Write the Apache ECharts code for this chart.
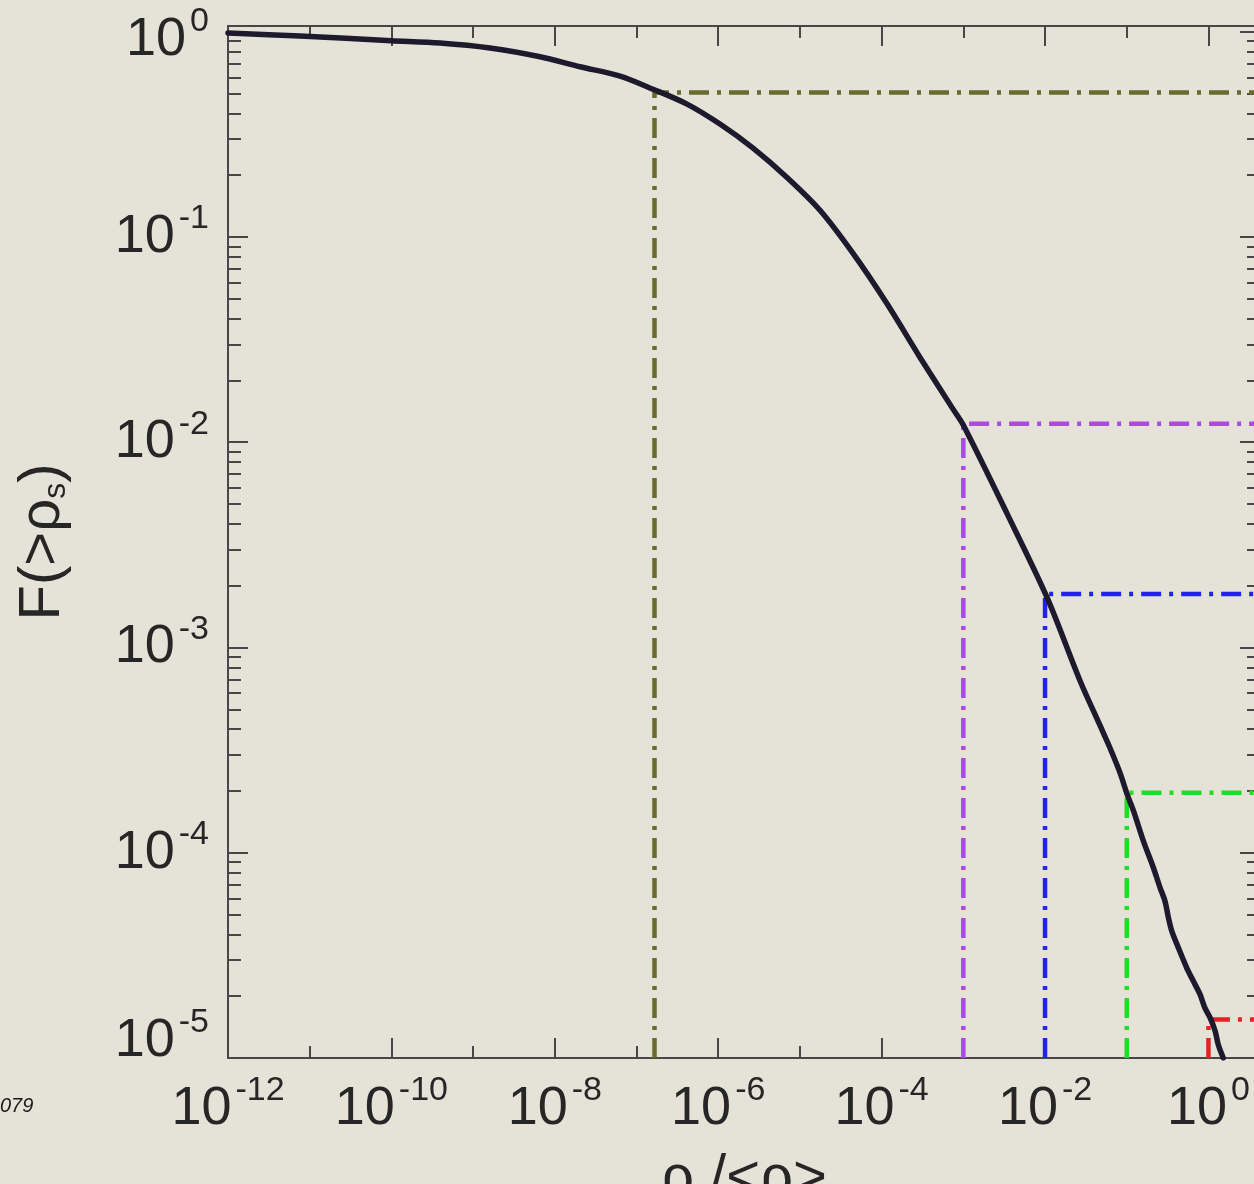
<!DOCTYPE html>
<html>
<head>
<meta charset="utf-8">
<script src="https://cdn.jsdelivr.net/npm/echarts@6/dist/echarts.min.js"></script>
<style>
  html, body { margin: 0; padding: 0; background: #e5e3d7; }
  #chart { width: 1254px; height: 1184px; }
</style>
</head>
<body>
<div id="chart"></div>
<script>
// Cumulative fraction F(>rho_s) against the density ratio rho_s/<rho>
const rhoRatio = [1.00e-12, 7.60e-12, 1.0e-10, 3.94e-10, 1.61e-9, 6.59e-9, 2.03e-8, 6.28e-8,
  1.59e-7, 4.15e-7, 1.05e-6, 2.67e-6, 6.95e-6, 1.76e-5, 4.47e-5, 1.16e-4, 2.95e-4, 7.48e-4,
  9.91e-4, 3.43e-3, 1.06e-2, 2.68e-2, 4.71e-2, 6.24e-2, 8.28e-2, 0.101, 0.121, 0.160, 0.212,
  0.256, 0.294, 0.324, 0.356, 0.429, 0.542, 0.653, 0.789, 0.908, 1.05, 1.21, 1.32, 1.52];
const fraction = [0.986, 0.953, 0.904, 0.881, 0.833, 0.755, 0.675, 0.608,
  0.525, 0.444, 0.355, 0.271, 0.195, 0.135, 0.0832, 0.0474, 0.0259, 0.0145,
  0.0122, 4.49e-3, 1.75e-3, 6.89e-4, 4.17e-4, 3.24e-4, 2.45e-4, 1.93e-4, 1.60e-4, 1.14e-4, 8.45e-5,
  6.75e-5, 5.81e-5, 4.82e-5, 4.15e-5, 3.44e-5, 2.75e-5, 2.37e-5, 2.04e-5, 1.75e-5, 1.57e-5, 1.35e-5, 1.16e-5, 1.0e-5];

// Threshold levels: density ratio and the fraction of points above it
const thresholdRho = [1.66e-7, 1e-3, 1e-2, 1e-1, 1.0];
const thresholdF = [0.506, 0.0123, 0.00182, 1.96e-4, 1.54e-5];
const thresholdColors = ['#6a6a2e', '#aa4ae2', '#2323e2', '#25dc25', '#e42424'];

// Axis extents and tick positions, as powers of ten
const xRangeExp = [-12, 0.631];
const yRangeExp = [-5, 0.028];
const xLabelExp = [-12, -10, -8, -6, -4, -2, 0];
const xMinorExp = [-11, -9, -7, -5, -3, -1];
const yLabelExp = [-5, -4, -3, -2, -1, 0];
const yMinorMantissa = [2, 3, 4, 5, 6, 7, 8, 9];

const FONT = '"Liberation Sans", Arial, Helvetica, sans-serif';
const AXIS_COLOR = '#474747';
const TEXT_COLOR = '#262626';

const yMinorExp = [];
for (let e = yRangeExp[0]; e < 0; e++) {
  yMinorMantissa.forEach(m => yMinorExp.push(e + Math.log10(m)));
}

// "10" with a raised exponent; the top and bottom y labels sit slightly inside the frame
const baseText = { fontSize: 54, fontFamily: FONT, color: TEXT_COLOR };
const supText = { fontSize: 34, fontFamily: FONT, color: TEXT_COLOR, padding: [0, 0, 0, 4], verticalAlign: 'top' };
const powerRich = {
  b:  Object.assign({}, baseText, { lineHeight: 68 }),
  s:  Object.assign({}, supText, { height: 32 }),
  bt: Object.assign({}, baseText, { lineHeight: 84, height: 68, verticalAlign: 'bottom' }),
  st: Object.assign({}, supText, { height: 64 }),
  bb: Object.assign({}, baseText, { lineHeight: 102, height: 68, verticalAlign: 'top' }),
  sb: Object.assign({}, supText, { height: 32 })
};

function powerLabel(v, key) {
  const e = Math.round(v);
  return '{b' + key + '|10}{s' + key + '|' + e + '}';
}

const tickLine = { color: AXIS_COLOR, width: 2 };

function xAxisDef(position, major, withLabels) {
  return {
    type: 'value',
    position: position,
    min: xRangeExp[0],
    max: xRangeExp[1],
    axisLine: { show: major, onZero: false, lineStyle: { color: AXIS_COLOR, width: 2 } },
    axisTick: { show: true, inside: true, length: major ? 20 : 12,
      customValues: major ? xLabelExp : xMinorExp, lineStyle: tickLine },
    axisLabel: withLabels ? {
      show: true, customValues: xLabelExp, margin: 17,
      formatter: v => powerLabel(v, ''), rich: powerRich
    } : { show: false },
    splitLine: { show: false }
  };
}

function yAxisDef(position, major, withLabels) {
  return {
    type: 'value',
    position: position,
    min: yRangeExp[0],
    max: yRangeExp[1],
    axisLine: { show: major, onZero: false, lineStyle: { color: AXIS_COLOR, width: 2 } },
    axisTick: { show: true, inside: true, length: major ? 20 : 13,
      customValues: major ? yLabelExp : yMinorExp, lineStyle: tickLine },
    axisLabel: withLabels ? {
      show: true, customValues: yLabelExp, margin: 19,
      formatter: v => {
        const e = Math.round(v);
        return powerLabel(v, e === 0 ? 't' : (e === yRangeExp[0] ? 'b' : ''));
      },
      rich: powerRich
    } : { show: false },
    splitLine: { show: false }
  };
}

const nameRich = {
  a: { fontSize: 58, lineHeight: 58, fontFamily: FONT, color: TEXT_COLOR },
  sub: { fontSize: 32, lineHeight: 10, verticalAlign: 'bottom', fontFamily: FONT, color: TEXT_COLOR }
};

const xAxes = [
  xAxisDef('bottom', true, true),
  xAxisDef('bottom', false, false),
  xAxisDef('top', true, false),
  xAxisDef('top', false, false)
];
Object.assign(xAxes[0], {
  name: '{a|ρ}{sub|s}{a|/<ρ>}',
  nameLocation: 'middle',
  nameGap: 92,
  nameTextStyle: { rich: nameRich }
});

const yAxes = [
  yAxisDef('left', true, true),
  yAxisDef('left', false, false),
  yAxisDef('right', true, false),
  yAxisDef('right', false, false)
];
Object.assign(yAxes[0], {
  name: '{a|F(>ρ}{sub|s}{a|)}',
  nameLocation: 'middle',
  nameRotate: 90,
  nameGap: 156,
  nameTextStyle: { rich: nameRich }
});

const series = [];
thresholdRho.forEach((r, i) => {
  const lx = Math.log10(r);
  const lf = Math.log10(thresholdF[i]);
  series.push({
    type: 'line',
    xAxisIndex: 0,
    yAxisIndex: 0,
    data: [[lx, yRangeExp[0]], [lx, lf], [xRangeExp[1], lf]],
    symbol: 'none',
    silent: true,
    z: 2,
    lineStyle: { color: thresholdColors[i], width: 4.5, type: [20, 8, 4, 8] }
  });
});
series.push({
  type: 'line',
  xAxisIndex: 0,
  yAxisIndex: 0,
  data: rhoRatio.map((r, i) => [Math.log10(r), Math.log10(fraction[i])]),
  symbol: 'none',
  smooth: 0.3,
  silent: true,
  z: 5,
  lineStyle: { color: '#1c1a2c', width: 5.5, cap: 'round', join: 'round' }
});

const chart = echarts.init(document.getElementById('chart'), null, { renderer: 'canvas' });
chart.setOption({
  backgroundColor: '#e5e3d7',
  animation: false,
  grid: {
    left: 228, right: -6, top: 26, bottom: 126,
    containLabel: false,
    outerBoundsMode: 'none'
  },
  xAxis: xAxes,
  yAxis: yAxes,
  series: series,
  graphic: [{
    type: 'text',
    left: 0,
    top: 1096,
    style: { text: '079', font: 'italic 20px "Liberation Sans", Arial, sans-serif', fill: '#1a1a1a' }
  }]
});
</script>
</body>
</html>
